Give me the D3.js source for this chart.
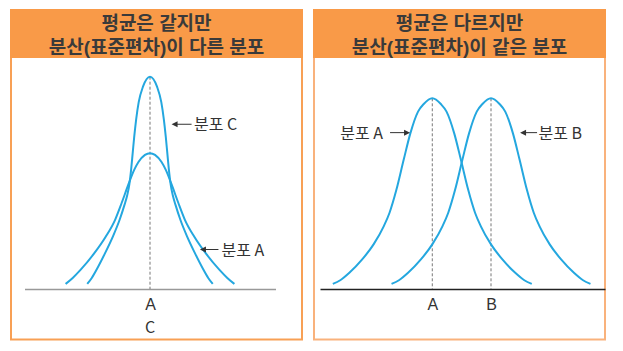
<!DOCTYPE html>
<html>
<head>
<meta charset="utf-8">
<script src="https://cdn.jsdelivr.net/npm/d3@7"></script>
<style>
  body { margin: 0; background: #fff; }
  svg { display: block; font-family: "Noto Sans CJK KR", "Noto Sans", sans-serif; }
</style>
</head>
<body>
<div id="plot"></div>
<script>
// ---- data ----
const titleLeft = ["평균은 같지만", "분산(표준편차)이 다른 분포"],
      titleRight = ["평균은 다르지만", "분산(표준편차)이 같은 분포"],
      leftTicks = ["A", "C"],        // both means sit on the same spot
      leftMean = 0,
      rightTicks = ["A", "B"],
      rightMeans = [39.4, 60],
      leftNames = ["분포 C", "분포 A"],
      rightNames = ["분포 A", "분포 B"],
      // [x, relative height] — left panel, x measured from the common mean
      leftC = [[-25.0,2.4],[-23.2,5.2],[-21.2,9.3],[-17.9,16.9],[-14.8,24.7],[-12.1,32.6],[-10.2,39.5],
               [-9.1,44.0],[-8.2,49.5],[-7.5,56.5],[-6.9,64.0],[-6.3,71.5],[-5.5,80.0],[-4.5,88.0],
               [-2.8,95.3],[0,100],[2.8,95.3],[4.5,88.0],[5.5,80.0],[6.3,71.5],[6.9,64.0],[7.5,56.5],
               [8.2,49.5],[9.1,44.0],[10.2,39.5],[12.1,32.6],[14.8,24.7],[17.9,16.9],[21.2,9.3],
               [23.2,5.2],[25.0,2.4]],
      leftA = [[-33.6,2.4],[-30.8,5.2],[-27.6,9.1],[-22.4,16.5],[-17.6,24.7],[-13.9,32.6],[-11.3,40.5],
               [-8.9,48.3],[-6.3,56.1],[-4.6,59.8],[-2.0,63.2],[0,64.0],[2.0,63.2],[4.6,59.8],[6.3,56.1],
               [8.9,48.3],[11.3,40.5],[13.9,32.6],[17.6,24.7],[22.4,16.5],[27.6,9.1],[30.8,5.2],[33.6,2.4]],
      // right panel
      rightA = [[4.5,2.7],[7.1,4.6],[10.3,8.5],[14.8,15.5],[18.8,23.4],[22.4,33.0],[24.4,40.0],[26.8,52.0],
                [29.4,68.0],[31.7,81.6],[34.4,93.0],[36.4,97.0],[39.4,100],[42.4,97.0],[44.4,93.0],
                [47.1,81.6],[49.4,68.0],[52.0,52.0],[54.4,40.0],[56.4,33.0],[60.0,23.4],[64.0,15.5],
                [68.5,8.5],[71.7,4.6],[74.3,2.7]],
      rightB = [[25.1,2.7],[27.7,4.6],[30.9,8.5],[35.4,15.5],[39.4,23.4],[43.0,33.0],[45.0,40.0],[47.4,52.0],
                [50.0,68.0],[52.3,81.6],[55.0,93.0],[57.0,97.0],[60.0,100],[63.0,97.0],[65.0,93.0],
                [67.7,81.6],[70.0,68.0],[72.6,52.0],[75.0,40.0],[77.0,33.0],[80.6,23.4],[84.6,15.5],
                [89.1,8.5],[92.3,4.6],[94.9,2.7]]

const w = 623,
      h = 351,
      blue = "#24a7df",
      orange = "#f99a48",
      ink = "#333",
      xL = d3.scaleLinear().domain([-50, 50]).range([24.5, 275.5]),
      yL = d3.scaleLinear().domain([0, 100]).range([289, 76.7]),
      xR = d3.scaleLinear().domain([0, 100]).range([320, 605]),
      yR = d3.scaleLinear().domain([0, 100]).range([289, 98.3])

const svg = d3.select("#plot").append("svg")
  .attr("width", w)
  .attr("height", h)
  .attr("viewBox", `0 0 ${w} ${h}`)

// panel frame + orange title band
const panel = (x0, x1, border, lines) => {
  const g = svg.append("g")
  g.append("rect")
    .attr("x", x0 + 1).attr("y", 10)
    .attr("width", x1 - x0 - 2).attr("height", 329.5)
    .attr("fill", "#fff")
    .attr("stroke", border)
    .attr("stroke-width", 2)
  g.append("rect")
    .attr("x", x0).attr("y", 9)
    .attr("width", x1 - x0).attr("height", 49)
    .attr("fill", orange)
  // a latin primary font keeps the line box tight; hangul falls back to Noto CJK
  g.selectAll("text.title")
    .data(lines)
    .join("text")
    .attr("class", "title")
    .attr("x", (x0 + x1) / 2)
    .attr("y", (d, i) => 29.5 + i * 24)
    .attr("text-anchor", "middle")
    .attr("font-family", "'Liberation Sans', 'Noto Sans CJK KR', sans-serif")
    .attr("font-size", 19)
    .attr("font-weight", "bold")
    .attr("fill", "#3a3a3a")
    .text(d => d)
  return g
}

const curve = (g, data, x, y) => {
  g.append("path")
    .datum(data)
    .attr("fill", "none")
    .attr("stroke", blue)
    .attr("stroke-width", 2)
    .attr("d", d3.line()
      .x(d => x(d[0]))
      .y(d => y(d[1]))
      .curve(d3.curveMonotoneX))
}

const dashed = (g, xv, x, y) => {
  g.append("line")
    .attr("x1", x(xv)).attr("x2", x(xv))
    .attr("y1", y(100)).attr("y2", y(0))
    .attr("stroke", "#777")
    .attr("stroke-width", 1)
    .attr("stroke-dasharray", "3,2")
}

// little arrow pointing at a curve, label on the far side
const annotate = (g, tip, len, dir, gap, label) => {
  const tx = tip[0], ty = tip[1], tail = tx - dir * len
  g.append("line")
    .attr("x1", tail).attr("x2", tx - dir * 5)
    .attr("y1", ty).attr("y2", ty)
    .attr("stroke", ink)
    .attr("stroke-width", 1)
  g.append("path")
    .attr("d", `M${tx},${ty} L${tx - dir * 6},${ty - 3} L${tx - dir * 6},${ty + 3} Z`)
    .attr("fill", ink)
  g.append("text")
    .attr("x", tail - dir * gap)
    .attr("y", ty + 6)
    .attr("text-anchor", dir > 0 ? "end" : "start")
    .attr("font-size", 16)
    .attr("fill", ink)
    .text(label)
}

// ---- left: same mean, different spread ----
const gl = panel(10, 303, "#f8a055", titleLeft)

gl.append("g")
  .attr("transform", `translate(0, ${yL(0)})`)
  .call(d3.axisBottom(xL).tickValues([leftMean]).tickSize(0).tickSizeOuter(0).tickPadding(10)
    .tickFormat(() => leftTicks[0]))
  .call(a => a.select(".domain").attr("stroke", "#999").attr("stroke-width", 1.5))
  .call(a => a.selectAll("text").attr("font-size", 16).attr("fill", ink).attr("font-family", null))

gl.append("text")
  .attr("x", xL(leftMean))
  .attr("y", yL(0) + 44)
  .attr("text-anchor", "middle")
  .attr("font-size", 16)
  .attr("fill", ink)
  .text(leftTicks[1])

dashed(gl, leftMean, xL, yL)
curve(gl, leftA, xL, yL)
curve(gl, leftC, xL, yL)
annotate(gl, [xL(8.6), yL(77.6)], 20, -1, 2.5, leftNames[0])
annotate(gl, [xL(19.9), yL(18.6)], 18.5, -1, 3, leftNames[1])

// ---- right: different means, same spread ----
const gr = panel(313, 606, "#f9b27c", titleRight)

gr.append("g")
  .attr("transform", `translate(0, ${yR(0)})`)
  .call(d3.axisBottom(xR).tickValues(rightMeans).tickSize(0).tickSizeOuter(0).tickPadding(10)
    .tickFormat((d, i) => rightTicks[i]))
  .call(a => a.select(".domain").attr("stroke", "#222").attr("stroke-width", 1.5))
  .call(a => a.selectAll("text").attr("font-size", 16).attr("fill", ink).attr("font-family", null))

rightMeans.forEach(m => dashed(gr, m, xR, yR))
curve(gr, rightA, xR, yR)
curve(gr, rightB, xR, yR)
annotate(gr, [xR(31.6), yR(82.0)], 20, 1, 7, rightNames[0])
annotate(gr, [xR(70.2), yR(82.0)], 17, -1, 1.5, rightNames[1])
</script>
</body>
</html>
